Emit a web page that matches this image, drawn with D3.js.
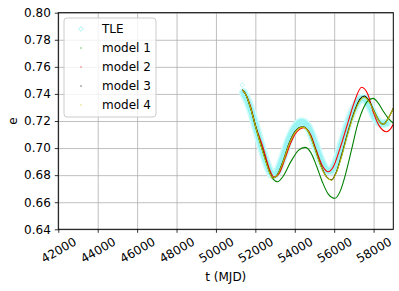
<!DOCTYPE html>
<html>
<head>
<meta charset="utf-8">
<script src="https://cdn.jsdelivr.net/npm/d3@7"></script>
<style>
  body { margin: 0; background: #fff; }
  text { font-family: "DejaVu Sans", sans-serif; font-size: 12px; fill: #000; }
</style>
</head>
<body>
<div id="chart"></div>
<script>
// data: [t (MJD), e]
const xTicks = [42000, 44000, 46000, 48000, 50000, 52000, 54000, 56000, 58000];
const yTicks = [0.64, 0.66, 0.68, 0.70, 0.72, 0.74, 0.76, 0.78, 0.80];
const legendLabels = ["TLE", "model 1", "model 2", "model 3", "model 4"];

const tle = [
  [51330, 0.7466], [51400, 0.741], [51600, 0.735], [51800, 0.727], [52000, 0.717],
  [52250, 0.704], [52500, 0.692], [52700, 0.684], [52900, 0.680], [53100, 0.682],
  [53400, 0.693], [53700, 0.706], [54000, 0.715], [54350, 0.7195], [54700, 0.715],
  [55000, 0.704], [55300, 0.692], [55600, 0.684], [55800, 0.683], [56100, 0.690],
  [56400, 0.704], [56700, 0.718], [57000, 0.729], [57300, 0.736], [57500, 0.737],
  [57800, 0.731], [58100, 0.722], [58400, 0.718], [58650, 0.7185]
];
const model1 = [
  [51340, 0.7430], [51500, 0.7400], [51750, 0.7300], [52000, 0.7160], [52400, 0.6970],
  [52700, 0.6840], [52900, 0.6770], [53130, 0.6751], [53400, 0.6790], [53800, 0.6900],
  [54200, 0.6985], [54520, 0.7005], [54800, 0.6970], [55100, 0.6870], [55400, 0.6750],
  [55700, 0.6660], [56040, 0.6629], [56300, 0.6680], [56600, 0.6820], [56900, 0.7000],
  [57200, 0.7180], [57500, 0.7300], [57750, 0.7355], [57983, 0.7367], [58200, 0.7340],
  [58500, 0.7270], [58750, 0.7220], [59000, 0.7183]
];
const model2 = [
  [51340, 0.7430], [51500, 0.7400], [51750, 0.7310], [52000, 0.7170], [52400, 0.7000],
  [52700, 0.6850], [52960, 0.6784], [53200, 0.6810], [53500, 0.6920], [53800, 0.7040],
  [54100, 0.7120], [54480, 0.7150], [54800, 0.7100], [55100, 0.6980], [55400, 0.6870],
  [55700, 0.6825], [55950, 0.6860], [56300, 0.7000], [56713, 0.7195], [57000, 0.7330],
  [57393, 0.7449], [57700, 0.7400], [58000, 0.7260], [58300, 0.7160], [58660, 0.7121],
  [58850, 0.7140], [59000, 0.7175]
];
const model3 = [
  [51340, 0.7430], [51500, 0.7400], [51750, 0.7300], [52000, 0.7170], [52250, 0.7040],
  [52500, 0.6920], [52700, 0.6830], [52880, 0.6780], [53100, 0.6800], [53400, 0.6900],
  [53700, 0.7030], [54000, 0.7120], [54400, 0.7158], [54700, 0.7120], [55000, 0.7010],
  [55300, 0.6880], [55600, 0.6790], [55870, 0.6765], [56100, 0.6820], [56400, 0.6960],
  [56700, 0.7120], [57000, 0.7260], [57300, 0.7360], [57525, 0.7385], [57800, 0.7340],
  [58100, 0.7250], [58300, 0.7195], [58490, 0.7175], [58700, 0.7210], [59000, 0.7295]
];
const model4 = [
  [51340, 0.7430], [51500, 0.7400], [51750, 0.7300], [52000, 0.7165], [52250, 0.7035],
  [52500, 0.6915], [52700, 0.6828], [52880, 0.6778], [53100, 0.6798], [53400, 0.6895],
  [53700, 0.7025], [54000, 0.7115], [54400, 0.7155], [54700, 0.7118], [55000, 0.7005],
  [55300, 0.6875], [55600, 0.6788], [55870, 0.6762], [56100, 0.6815], [56400, 0.6950],
  [56700, 0.7110], [57000, 0.7250], [57300, 0.7350], [57525, 0.7375], [57800, 0.7335],
  [58100, 0.7248], [58300, 0.7195], [58490, 0.7175], [58700, 0.7210], [59000, 0.7293]
];

const W = 399, H = 291;
const margin = { top: 12.7, right: 5.7, bottom: 61.7, left: 58.3 };
const width = W - margin.left - margin.right;
const height = H - margin.top - margin.bottom;

const svg = d3.select("#chart").append("svg")
    .attr("width", W)
    .attr("height", H);

const g = svg.append("g")
    .attr("transform", `translate(${margin.left},${margin.top})`);

const x = d3.scaleLinear().domain([42000, 59000]).range([0, width]);
const y = d3.scaleLinear().domain([0.64, 0.80]).range([height, 0]);

// Gitter
g.append("g")
    .attr("transform", `translate(0,${height})`)
    .call(d3.axisBottom(x).tickValues(xTicks).tickSize(-height).tickFormat(""))
    .call(s => s.select(".domain").remove())
    .call(s => s.selectAll("line").attr("stroke", "#b0b0b0").attr("stroke-width", 0.8));
g.append("g")
    .call(d3.axisLeft(y).tickValues(yTicks).tickSize(-width).tickFormat(""))
    .call(s => s.select(".domain").remove())
    .call(s => s.selectAll("line").attr("stroke", "#b0b0b0").attr("stroke-width", 0.8));

g.append("clipPath").attr("id", "clip")
  .append("rect").attr("width", width).attr("height", height);

const plot = g.append("g").attr("clip-path", "url(#clip)");

const line = d3.line()
    .x(d => x(d[0]))
    .y(d => y(d[1]))
    .curve(d3.curveMonotoneX);

// TLE-Band (dichte Rautenmarker)
plot.append("path")
    .attr("d", line(tle.slice(1)))
    .attr("fill", "none")
    .attr("stroke", "#cdfbfb")
    .attr("stroke-width", 9)
    .attr("stroke-linecap", "round");
plot.append("path")
    .attr("d", line(tle.slice(1)))
    .attr("fill", "none")
    .attr("stroke", "#98f3f3")
    .attr("stroke-width", 6)
    .attr("stroke-linecap", "round");
plot.selectAll(".tle")
    .data(tle)
    .join("path")
    .attr("class", "tle")
    .attr("d", d3.symbol(d3.symbolDiamond2, 14))
    .attr("transform", d => `translate(${x(d[0])},${y(d[1])})`)
    .attr("fill", "none")
    .attr("stroke", "#a8f5f5")
    .attr("stroke-width", 0.8);

const models = [
  { data: model1, color: "#008000" },
  { data: model2, color: "#ff0000" },
  { data: model3, color: "#000000" },
  { data: model4, color: "#bfbf00" }
];

plot.selectAll(".model")
    .data(models)
    .join("path")
    .attr("class", "model")
    .attr("d", d => line(d.data))
    .attr("fill", "none")
    .attr("stroke", d => d.color)
    .attr("stroke-width", 1.1);

// Achsen
const xAxis = g.append("g")
    .attr("transform", `translate(0,${height})`)
    .call(d3.axisBottom(x).tickValues(xTicks).tickSize(3.5).tickPadding(2).tickFormat(d3.format("d")));
xAxis.selectAll("text")
    .attr("text-anchor", "middle")
    .attr("dy", null)
    .attr("y", null)
    .attr("dominant-baseline", "central")
    .attr("transform", "translate(0,21) rotate(-30)");

const yAxis = g.append("g")
    .call(d3.axisLeft(y).tickValues(yTicks).tickSize(3.5).tickPadding(4).tickFormat(d3.format(".2f")));

[xAxis, yAxis].forEach(a => {
  a.selectAll("line").attr("stroke", "#000").attr("stroke-width", 0.8);
  a.select(".domain").remove();
  a.selectAll("text").style("font-family", "DejaVu Sans").style("font-size", "12px").attr("fill", "#000");
});

// Rahmen
g.append("rect")
    .attr("width", width)
    .attr("height", height)
    .attr("fill", "none")
    .attr("stroke", "#000")
    .attr("stroke-width", 1);

// Beschriftungen
svg.append("text")
    .attr("x", margin.left + width / 2)
    .attr("y", 281)
    .attr("text-anchor", "middle")
    .text("t (MJD)");
svg.append("text")
    .attr("transform", `translate(17,${margin.top + height / 2}) rotate(-90)`)
    .attr("text-anchor", "middle")
    .text("e");

// Legende
const legend = svg.append("g").attr("transform", "translate(64,18)");
legend.append("rect")
    .attr("width", 92)
    .attr("height", 99)
    .attr("rx", 3)
    .attr("fill", "#fff")
    .attr("fill-opacity", 0.8)
    .attr("stroke", "#cccccc")
    .attr("stroke-width", 1);

const legendColors = ["#a8f5f5", "#008000", "#ff0000", "#000000", "#bfbf00"];
legendLabels.forEach((lab, i) => {
  const yy = 11 + i * 19;
  if (i === 0) {
    legend.append("path")
      .attr("d", d3.symbol(d3.symbolDiamond2, 14))
      .attr("transform", `translate(17,${yy})`)
      .attr("fill", "none")
      .attr("stroke", legendColors[i])
      .attr("stroke-width", 1);
  } else {
    legend.append("rect")
      .attr("x", 16.5).attr("y", yy - 0.5)
      .attr("width", 1).attr("height", 1)
      .attr("fill", legendColors[i]);
  }
  legend.append("text")
    .attr("x", 38)
    .attr("y", yy + 4)
    .text(lab);
});
</script>
</body>
</html>
